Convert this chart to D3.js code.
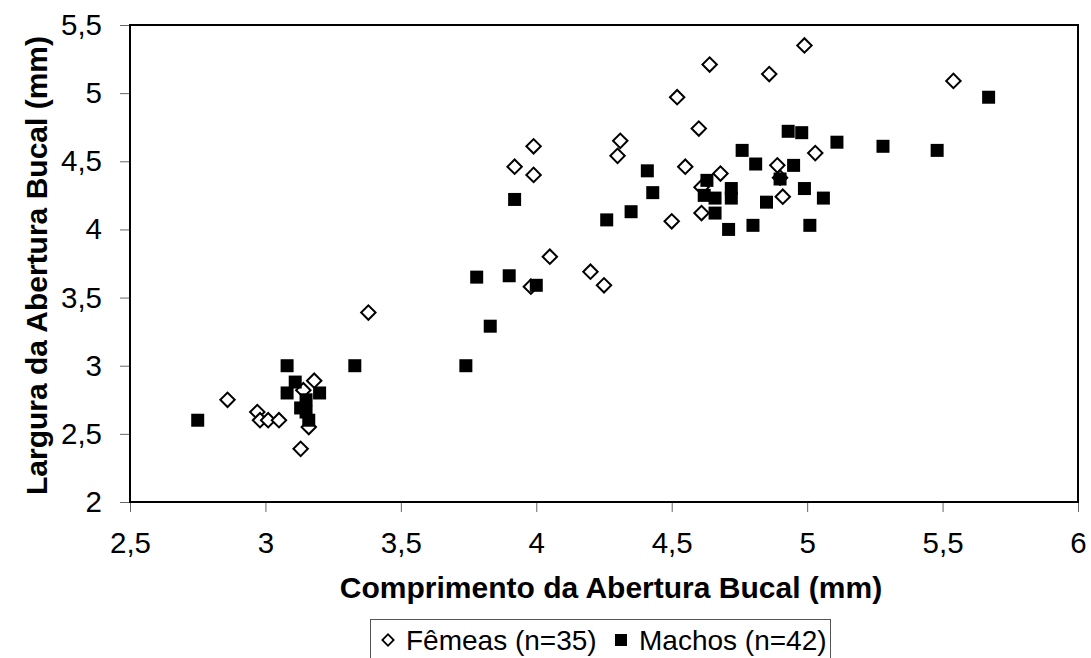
<!DOCTYPE html>
<html>
<head>
  <meta charset="utf-8">
  <script src="https://cdn.jsdelivr.net/npm/d3@7"></script>
  <style>
    body { margin: 0; background: #fff; }
    svg { display: block; font-family: "Liberation Sans", Arial, sans-serif; }
    .tick line { stroke: #666; }
    .tick text { fill: #000; font-size: 29.5px; font-family: "Liberation Sans", Arial, sans-serif; }
    .domain { display: none; }
    .title { font-size: 30px; font-weight: bold; }
    .legend text { font-size: 28px; }
  </style>
</head>
<body>
  <svg id="chart"></svg>
  <script>
    // Fêmeas: comprimento (x) e largura (y)
    var femeasX = [2.86, 2.97, 2.98, 3.01, 3.05, 3.14, 3.18, 3.16, 3.13, 3.38,
                   3.99, 3.92, 3.99, 3.98, 4.05, 4.20, 4.25, 4.31, 4.30, 4.50,
                   4.55, 4.52, 4.60, 4.64, 4.86, 4.99, 4.68, 4.61, 4.61, 4.89,
                   4.90, 4.91, 5.03, 5.54];
    var femeasY = [2.75, 2.66, 2.60, 2.60, 2.60, 2.82, 2.89, 2.55, 2.39, 3.39,
                   4.61, 4.46, 4.40, 3.58, 3.80, 3.69, 3.59, 4.65, 4.54, 4.06,
                   4.46, 4.97, 4.74, 5.21, 5.14, 5.35, 4.41, 4.31, 4.12, 4.47,
                   4.38, 4.24, 4.56, 5.09];

    // Machos
    var machosX = [2.75, 3.08, 3.11, 3.08, 3.20, 3.15, 3.13, 3.15, 3.16, 3.33,
                   3.74, 3.83, 3.78, 3.90, 4.00, 3.92, 4.26, 4.35, 4.41, 4.43,
                   4.76, 4.81, 4.63, 4.62, 4.66, 4.72, 4.72, 4.66, 4.71, 4.80,
                   4.85, 4.90, 4.93, 4.98, 4.95, 4.99, 5.06, 5.01, 5.11, 5.28,
                   5.48, 5.67];
    var machosY = [2.60, 3.00, 2.88, 2.80, 2.80, 2.75, 2.69, 2.66, 2.60, 3.00,
                   3.00, 3.29, 3.65, 3.66, 3.59, 4.22, 4.07, 4.13, 4.43, 4.27,
                   4.58, 4.48, 4.36, 4.25, 4.23, 4.30, 4.23, 4.12, 4.00, 4.03,
                   4.20, 4.37, 4.72, 4.71, 4.47, 4.30, 4.23, 4.03, 4.64, 4.61,
                   4.58, 4.97];

    var xTicks = [2.5, 3, 3.5, 4, 4.5, 5, 5.5, 6];
    var yTicks = [2, 2.5, 3, 3.5, 4, 4.5, 5, 5.5];

    var W = 1091, H = 658;
    var margin = { top: 25, right: 13, bottom: 156, left: 130 };
    var width = W - margin.left - margin.right,
      height = H - margin.top - margin.bottom;

    var fmt = d => String(d).replace('.', ',');

    var x = d3.scaleLinear().domain([2.5, 6]).range([0, width]);
    var y = d3.scaleLinear().domain([2, 5.5]).range([height, 0]);

    var svg = d3.select('#chart')
      .attr('width', W)
      .attr('height', H);

    var g = svg.append('g')
      .attr('transform', 'translate(' + margin.left + ',' + margin.top + ')');

    g.append('g')
      .attr('class', 'x-axis')
      .attr('transform', 'translate(0,' + height + ')')
      .call(d3.axisBottom(x).tickValues(xTicks).tickFormat(fmt).tickSize(10).tickPadding(20));

    g.append('g')
      .attr('class', 'y-axis')
      .call(d3.axisLeft(y).tickValues(yTicks).tickFormat(fmt).tickSize(10).tickPadding(18));

    // plot frame
    g.append('rect')
      .attr('width', width)
      .attr('height', height)
      .attr('fill', 'none')
      .attr('stroke', '#000')
      .attr('stroke-width', 2);

    var diamond = d3.symbol().type(d3.symbolSquare).size(104);
    var square = d3.symbol().type(d3.symbolSquare).size(169);

    g.append('g').selectAll('path')
      .data(d3.range(femeasX.length))
      .enter()
      .append('path')
      .attr('d', diamond)
      .attr('transform', i => 'translate(' + x(femeasX[i]) + ',' + y(femeasY[i]) + ') rotate(45)')
      .attr('fill', '#fff')
      .attr('stroke', '#000')
      .attr('stroke-width', 2);

    g.append('g').selectAll('path')
      .data(d3.range(machosX.length))
      .enter()
      .append('path')
      .attr('d', square)
      .attr('transform', i => 'translate(' + x(machosX[i]) + ',' + y(machosY[i]) + ')')
      .attr('fill', '#000');

    svg.append('text')
      .attr('class', 'title')
      .attr('x', margin.left + width / 2 + 7)
      .attr('y', 598)
      .attr('text-anchor', 'middle')
      .text('Comprimento da Abertura Bucal (mm)');

    svg.append('text')
      .attr('class', 'title')
      .attr('transform', 'translate(47,' + (margin.top + height / 2 + 2) + ') rotate(-90)')
      .attr('text-anchor', 'middle')
      .text('Largura da Abertura Bucal (mm)');

    // legend
    var lg = svg.append('g').attr('class', 'legend');
    lg.append('rect')
      .attr('x', 370.5).attr('y', 619.5)
      .attr('width', 460).attr('height', 60)
      .attr('fill', '#fff').attr('stroke', '#555').attr('stroke-width', 1);
    lg.append('path')
      .attr('d', d3.symbol().type(d3.symbolSquare).size(64))
      .attr('transform', 'translate(388,640) rotate(45)')
      .attr('fill', '#fff').attr('stroke', '#000').attr('stroke-width', 1.8);
    lg.append('text').attr('x', 406).attr('y', 650).text('Fêmeas (n=35)');
    lg.append('path')
      .attr('d', d3.symbol().type(d3.symbolSquare).size(144))
      .attr('transform', 'translate(621,640)')
      .attr('fill', '#000');
    lg.append('text').attr('x', 639).attr('y', 650).text('Machos (n=42)');
  </script>
</body>
</html>
